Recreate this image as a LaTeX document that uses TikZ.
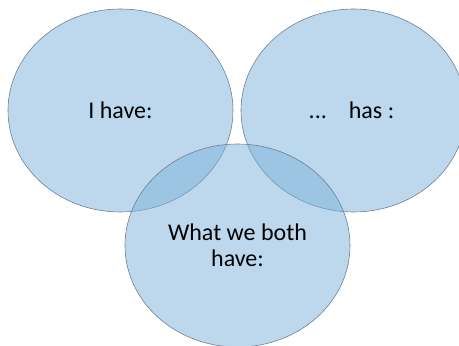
\documentclass[tikz,border=0pt]{standalone}
\usepackage{fontspec}
\setmainfont{Carlito}
\usetikzlibrary{shapes.geometric}
\definecolor{vfill}{RGB}{124,178,218}
\definecolor{vline}{RGB}{110,128,148}
\tikzset{
  venn/.style={ellipse, draw=vline, line width=0.6pt, fill=vfill, fill opacity=0.5,
    text opacity=1, minimum width=225pt, minimum height=203pt, inner sep=0pt,
    font=\fontsize{24}{26}\selectfont, text=black, align=center}
}
\begin{document}
\begin{tikzpicture}[x=1pt,y=1pt]
\useasboundingbox (0,0) rectangle (459,346);
\clip (0,0) rectangle (459,346);
\node[venn] (me) at (120.5,235.5) {I have:};
\node[venn] (other) at (353.5,235.5) {\hspace*{-4pt}...\hspace{22pt}has :};
\node[venn] (both) at (237.5,100.5) {What we both\\have:};
\end{tikzpicture}
\end{document}
